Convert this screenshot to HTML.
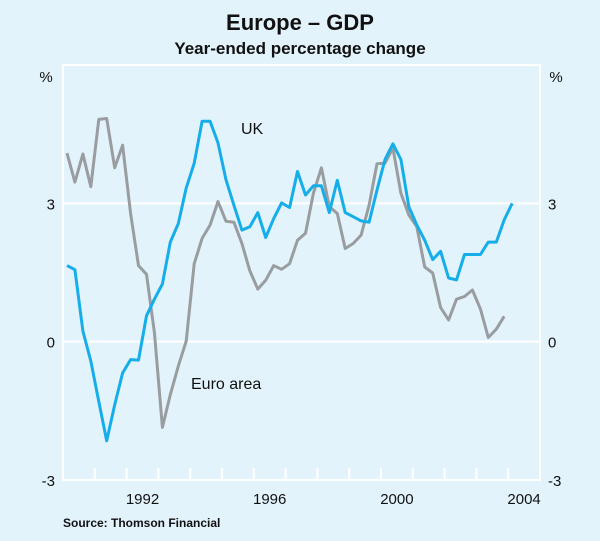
<!DOCTYPE html>
<html><head><meta charset="utf-8"><style>
body{margin:0;background:#e3f3fc;}
svg{display:block;font-family:"Liberation Sans",Arial,sans-serif;}
</style></head><body>
<svg width="600" height="541">
<rect width="600" height="541" fill="#e3f3fc"/>
<text x="300" y="30" text-anchor="middle" font-size="22" font-weight="bold" fill="#111">Europe – GDP</text>
<text x="300" y="54" text-anchor="middle" font-size="17" font-weight="bold" fill="#111">Year-ended percentage change</text>
<g id="grid"></g><g id="series"></g><g id="labels"></g>
<text x="46" y="82" text-anchor="middle" font-size="15" fill="#111">%</text>
<text x="556" y="82" text-anchor="middle" font-size="15" fill="#111">%</text>
<text x="241" y="134" font-size="16" fill="#111">UK</text>
<text x="191" y="389" font-size="16" fill="#111">Euro area</text>
<text x="63" y="527" font-size="12" font-weight="bold" fill="#111">Source: Thomson Financial</text>
</svg>
<script>
const yTicks=[-3,0,3,6];
const yTickLabels=["-3","0","3",""];
const xLabelYears=[1992,1996,2000,2004];
const ukValues=[1.65,1.56,0.23,-0.42,-1.3,-2.15,-1.37,-0.68,-0.39,-0.4,0.56,0.92,1.25,2.16,2.56,3.33,3.87,4.78,4.78,4.31,3.51,2.96,2.42,2.49,2.8,2.26,2.67,3.01,2.91,3.69,3.18,3.38,3.38,2.8,3.5,2.8,2.71,2.62,2.59,3.29,3.95,4.29,3.95,2.93,2.53,2.2,1.78,1.96,1.38,1.34,1.89,1.89,1.89,2.16,2.16,2.64,3.0];
const euroValues=[4.09,3.46,4.07,3.36,4.82,4.84,3.77,4.26,2.78,1.65,1.46,0.2,-1.86,-1.15,-0.53,0.01,1.69,2.24,2.53,3.04,2.61,2.59,2.13,1.54,1.14,1.33,1.65,1.57,1.69,2.2,2.35,3.22,3.77,2.93,2.78,2.02,2.13,2.31,2.96,3.86,3.87,4.2,3.22,2.75,2.49,1.62,1.49,0.74,0.47,0.92,0.98,1.12,0.71,0.09,0.27,0.55];
const startYear=1990.125;
const L=63,R=540,T=65,B=480,X0=1990,X1=2005,Y0=-3,Y1=6;
const NS="http://www.w3.org/2000/svg";
const xs=v=>L+(v-X0)/(X1-X0)*(R-L);
const ys=v=>B-(v-Y0)/(Y1-Y0)*(B-T);
function mk(tag,attrs,parent){const e=document.createElementNS(NS,tag);for(const k in attrs)e.setAttribute(k,attrs[k]);document.getElementById(parent).appendChild(e);return e;}
// frame
let f=mk('rect',{x:L,y:T,width:R-L,height:B-T,fill:'none',stroke:'#fff','stroke-width':2},'grid');


yTicks.forEach((t,i)=>{
  const g=mk('line',{x1:L,x2:R,y1:ys(t),y2:ys(t),stroke:'#fff','stroke-width':2},'grid');
  
  
  if(yTickLabels[i]){
    const a=mk('text',{x:L-8,y:ys(t)+6,'text-anchor':'end','font-size':15,fill:'#111'},'labels');a.textContent=yTickLabels[i];
    
    
    const b=mk('text',{x:R+8,y:ys(t)+6,'font-size':15,fill:'#111'},'labels');b.textContent=yTickLabels[i];
    
    
  }
});
for(let yr=X0+1;yr<X1;yr++){
  const t=mk('line',{x1:xs(yr),x2:xs(yr),y1:B,y2:B-12,stroke:'#fff','stroke-width':2},'grid');
  
  
}
xLabelYears.forEach(yr=>{
  const t=mk('text',{x:xs(yr+0.5),y:B+24,'text-anchor':'middle','font-size':15,fill:'#111'},'labels');t.textContent=yr;
  
  
});
function line(vals,color,name){
  const d=vals.map((v,i)=>(i?'L':'M')+xs(startYear+i*0.25).toFixed(1)+' '+ys(v).toFixed(1)).join(' ');
  const p=mk('path',{d:d,fill:'none',stroke:color,'stroke-width':3,'stroke-linejoin':'round'},'series');
  
  
}
line(euroValues,'#9a9da0','euro-area-line');
line(ukValues,'#15aee8','uk-line');
</script>
</body></html>
